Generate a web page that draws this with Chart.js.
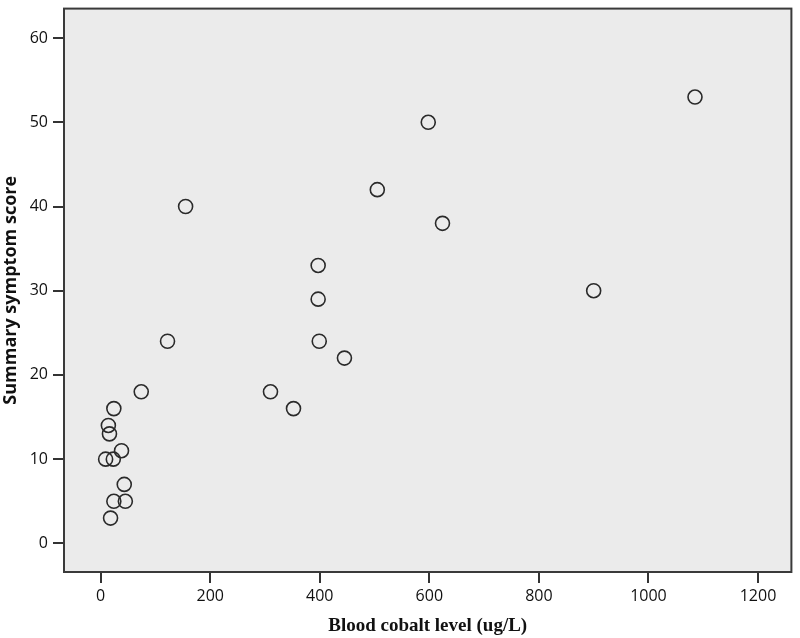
<!DOCTYPE html>
<html>
<head>
<meta charset="utf-8">
<script src="https://cdn.jsdelivr.net/npm/chart.js@4/dist/chart.umd.min.js"></script>
<style>
  body { margin: 0; background: #fff; }
  canvas { display: block; }
</style>
</head>
<body>
<canvas id="scatter" width="800" height="638"></canvas>
<script>
// blood cobalt (ug/L) vs summary symptom score
const cobalt = [9, 23, 18, 24, 45, 43, 38, 16, 14, 24, 74, 122, 155, 310, 352, 397, 397, 399, 445, 505, 598, 624, 900, 1085];
const score = [10, 10, 3, 5, 5, 7, 11, 13, 14, 16, 18, 24, 40, 18, 16, 33, 29, 24, 22, 42, 50, 38, 30, 53];

const xTicks = [0, 200, 400, 600, 800, 1000, 1200];
const yTicks = [0, 10, 20, 30, 40, 50, 60];

const points = cobalt.map((c, i) => ({ x: c, y: score[i] }));

const frame = {
    id: 'frame',
    beforeDatasetsDraw(chart) {
        const a = chart.chartArea;
        const ctx = chart.ctx;
        ctx.save();
        ctx.fillStyle = '#ebebeb';
        ctx.fillRect(a.left, a.top, a.right - a.left, a.bottom - a.top);
        ctx.restore();
    },
    afterDraw(chart) {
        const a = chart.chartArea;
        const ctx = chart.ctx;
        ctx.save();
        ctx.strokeStyle = '#3a3a3a';
        ctx.lineWidth = 2;
        ctx.strokeRect(a.left, a.top, a.right - a.left, a.bottom - a.top);
        ctx.restore();
    }
};

const tickFont = { family: 'Open Sans', size: 16 };

new Chart(document.getElementById('scatter'), {
    type: 'scatter',
    data: {
        datasets: [{
            data: points,
            pointStyle: 'circle',
            pointRadius: 7,
            borderWidth: 1.6,
            borderColor: '#2a2a2a',
            backgroundColor: 'rgba(0,0,0,0)'
        }]
    },
    options: {
        responsive: false,
        animation: false,
        events: [],
        layout: { padding: { top: 1, right: 4, left: 0, bottom: 0 } },
        plugins: { legend: { display: false }, tooltip: { enabled: false } },
        scales: {
            x: {
                type: 'linear',
                min: -67,
                max: 1261,
                afterBuildTicks: s => { s.ticks = xTicks.map(v => ({ value: v })); },
                afterFit: s => { s.height = 66; s.paddingLeft = 0; s.paddingRight = 0; },
                grid: { drawOnChartArea: false, drawTicks: true, tickLength: 11, color: '#333', lineWidth: 2 },
                border: { display: false },
                ticks: { font: tickFont, color: '#111', padding: 4, maxRotation: 0, callback: v => String(v) },
                title: {
                    display: true,
                    text: 'Blood cobalt level (ug/L)',
                    color: '#111',
                    font: { family: 'Liberation Serif', size: 19, weight: 'bold' },
                    padding: { top: 0, bottom: 1 }
                }
            },
            y: {
                type: 'linear',
                min: -3.4,
                max: 63.5,
                afterBuildTicks: s => { s.ticks = yTicks.map(v => ({ value: v })); },
                afterFit: s => { s.width = 64; s.paddingTop = 0; s.paddingBottom = 0; },
                grid: { drawOnChartArea: false, drawTicks: true, tickLength: 11, color: '#333', lineWidth: 2 },
                border: { display: false },
                ticks: { font: tickFont, color: '#111', padding: 5, callback: v => String(v) },
                title: {
                    display: true,
                    text: 'Summary symptom score',
                    color: '#111',
                    font: { family: 'Open Sans', size: 18, weight: 'bold' },
                    padding: { top: 0, bottom: 0 }
                }
            }
        }
    },
    plugins: [frame]
});
</script>
</body>
</html>
